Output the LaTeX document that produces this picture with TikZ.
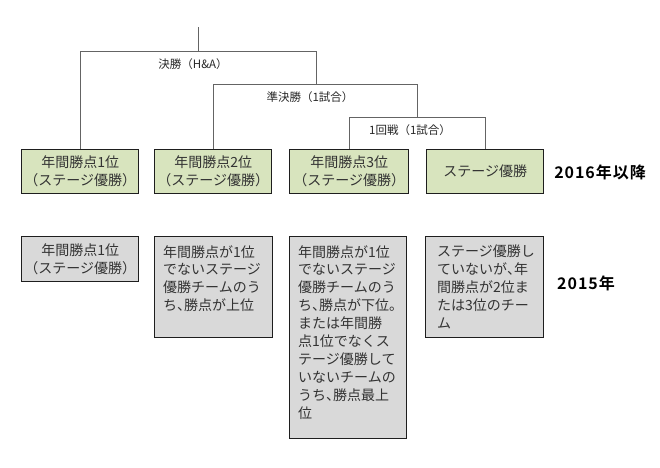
\documentclass[tikz,border=0pt]{standalone}
\usepackage{fontspec}
\setmainfont{Noto Sans CJK JP}
\newfontfamily\jpbold{Noto Sans CJK JP Bold}[LetterSpace=6]
\newcommand{\hl}[1]{\makebox[0.5em][l]{#1}}
\newcommand{\hr}[1]{\makebox[0.5em][r]{#1}}
\definecolor{boxgreen}{RGB}{216,228,190}
\definecolor{boxgray}{RGB}{217,217,217}
\definecolor{linegray}{RGB}{100,100,100}
\definecolor{edge}{RGB}{30,30,30}
\begin{document}
\begin{tikzpicture}[x=1pt,y=-1pt,
  base/.style={draw=edge,line width=1.3pt,rectangle,inner sep=0pt,
    font=\fontsize{14}{18}\selectfont,text=black!80},
  greenbox/.style={base,fill=boxgreen,minimum width=117pt,minimum height=44pt,align=center,anchor=north west},
  graybox/.style={base,fill=boxgray,minimum width=118pt,anchor=north west,align=center},
  inner/.style={anchor=north west,inner sep=0pt,align=left,font=\fontsize{14}{17.9}\selectfont,text=black!80},
  conn/.style={draw=linegray,line width=1pt},
  roundlabel/.style={font=\fontsize{11.5}{14}\selectfont,text=black!85,inner sep=0pt},
  yearlabel/.style={font=\jpbold\fontsize{16}{18}\selectfont,inner sep=0pt}]
\useasboundingbox (0,0) rectangle (660,467);

% row 1
\node[greenbox] (b1) at (21,149) {年間勝点1位\\\hr{（}ステージ優勝\hl{）}};
\node[greenbox] (b2) at (154,149) {年間勝点2位\\\hr{（}ステージ優勝\hl{）}};
\node[greenbox,minimum width=119pt] (b3) at (289,149) {年間勝点3位\\\hr{（}ステージ優勝\hl{）}};
\node[greenbox] (b4) at (426,149) {ステージ優勝};

% tree
\coordinate (top) at (198,27);
\coordinate (fbar) at (198,51);
\coordinate (semi) at (316,84);
\coordinate (r1) at (417,117);
\draw[conn] (top) -- (fbar);
\draw[conn] (b1.north) |- (semi |- fbar) -- (semi);
\draw[conn] (b2.north) |- (r1 |- semi) -- (r1);
\draw[conn] (b3.north) |- (b4.north |- r1) -- (b4.north);

\node[roundlabel] (l1) at (193,64) {決勝（H\&A）};
\node[roundlabel] (l2) at (310,97) {準決勝（1試合）};
\node[roundlabel] (l3) at (410,130) {1回戦（1試合）};

\node[yearlabel] (y1) at (600,172) {2016年以降};

% row 2
\node[graybox,minimum width=117pt,minimum height=45pt] (c1) at (21,236) {年間勝点1位\\\hr{（}ステージ優勝\hl{）}};
\node[graybox,minimum height=101pt] (c2) at (154,236) {};
\node[inner] (t2) at ([shift={(9,9)}]c2.north west) {年間勝点が1位\\でないステージ\\優勝チームのう\\ち\hl{、}勝点が上位};
\node[graybox,minimum width=117pt,minimum height=202pt] (c3) at (289,236) {};
\node[inner] (t3) at ([shift={(9,9)}]c3.north west) {年間勝点が1位\\でないステージ\\優勝チームのう\\ち\hl{、}勝点が下位\hl{。}\\または年間勝\\点1位でなくス\\テージ優勝して\\いないチームの\\うち\hl{、}勝点最上\\位};
\node[graybox,minimum height=101pt] (c4) at (425,236) {};
\node[inner] (t4) at ([shift={(12,9)}]c4.north west) {ステージ優勝し\\ていないが\hl{、}年\\間勝点が2位ま\\たは3位のチー\\ム};

\node[yearlabel] (y2) at (586,283) {2015年};
\end{tikzpicture}
\end{document}
